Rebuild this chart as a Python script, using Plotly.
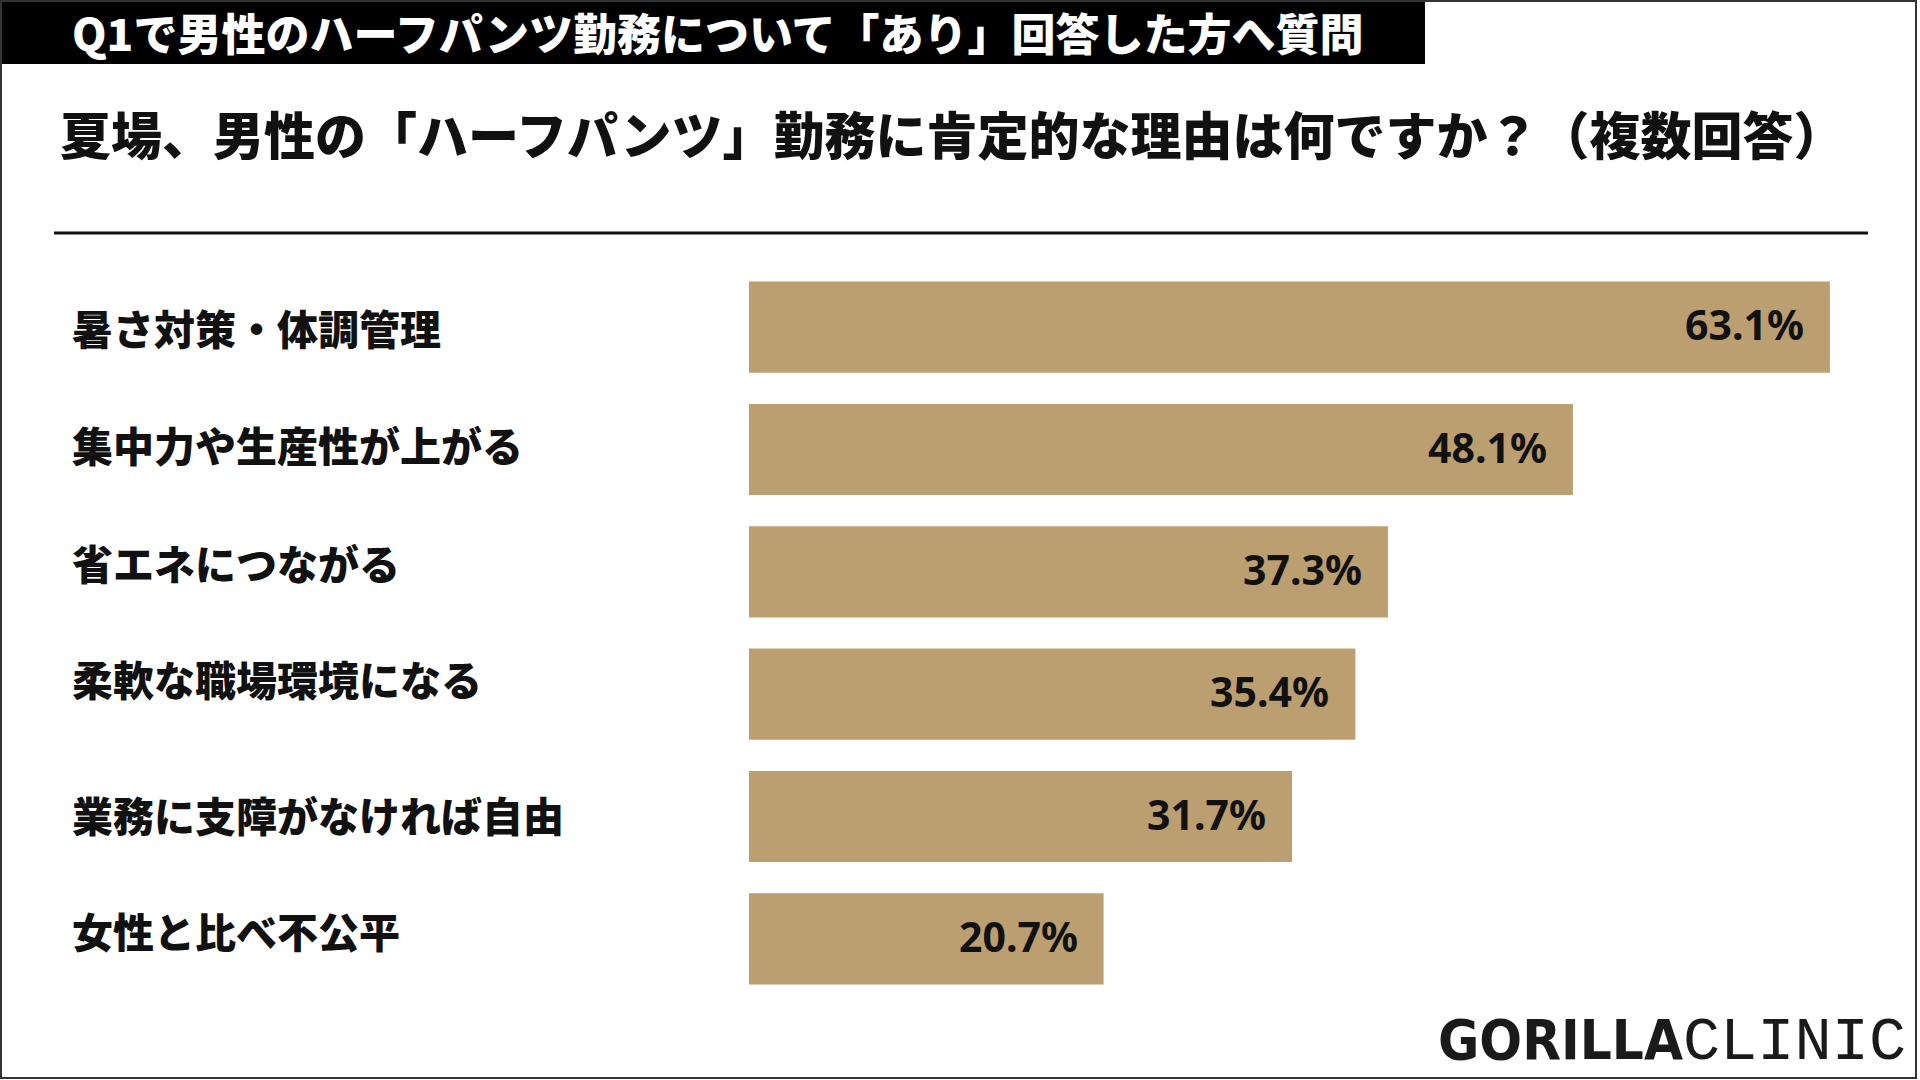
import plotly.graph_objects as go

# data
categories = [
    "暑さ対策・体調管理",
    "集中力や生産性が上がる",
    "省エネにつながる",
    "柔軟な職場環境になる",
    "業務に支障がなければ自由",
    "女性と比べ不公平",
]
values = [63.1, 48.1, 37.3, 35.4, 31.7, 20.7]
value_labels = ["63.1%", "48.1%", "37.3%", "35.4%", "31.7%", "20.7%"]

header_text = "Q1で男性のハーフパンツ勤務について「あり」回答した方へ質問"
title_text = "夏場、男性の「ハーフパンツ」勤務に肯定的な理由は何ですか？（複数回答）"

# small vertical nudges of the category labels (px), as in the original slide
label_nudge = [0, 6, 10, 16, 3, 9]

W, H = 1920, 1080
ML, MR, MT, MB = 749, 40, 266, 80
PW = W - ML - MR
PH = H - MT - MB

JP = "Noto Sans CJK JP"
BAR = "#BC9F70"


def xp(px):
    return (px - ML) / PW


def yp(py):
    return 1 - (py - MT) / PH


fig = go.Figure()
fig.add_trace(go.Bar(
    x=values, y=categories, orientation="h",
    marker=dict(color=BAR, line=dict(width=0)),
    hoverinfo="skip",
))

annotations = []
# value labels inside the bars
for c, v, t in zip(categories, values, value_labels):
    annotations.append(dict(
        x=v, y=c, xref="x", yref="y", text=t, showarrow=False,
        xanchor="right", yanchor="middle", xshift=-24, yshift=3,
        font=dict(family="Noto Sans", size=41, color="#111111", weight=700),
    ))
# category labels, left aligned
for c, n in zip(categories, label_nudge):
    annotations.append(dict(
        x=xp(70), y=c, xref="paper", yref="y", text=c, showarrow=False,
        xanchor="left", yanchor="middle", yshift=n,
        font=dict(family=JP, size=41, color="#111111", weight=900),
    ))
# header & title
annotations.append(dict(
    x=xp(70), y=yp(32), xref="paper", yref="paper", text=header_text,
    showarrow=False, xanchor="left", yanchor="middle",
    font=dict(family=JP, size=44, color="white", weight=900),
))
annotations.append(dict(
    x=xp(58), y=yp(133), xref="paper", yref="paper", text=title_text,
    showarrow=False, xanchor="left", yanchor="middle",
    font=dict(family=JP, size=51, color="#111111", weight=900),
))
# logo
annotations.append(dict(
    x=xp(1908), y=yp(1042), xref="paper", yref="paper",
    text="<span style='font-family:DejaVu Sans Condensed;font-weight:bold;font-size:56px'>GORILLA</span>"
         "<span style='font-family:Liberation Mono;font-size:62px'>CLINIC</span>",
    showarrow=False, xanchor="right", yanchor="middle",
    font=dict(color="#1a1a1a", size=56),
))

shapes = [
    # header black band
    dict(type="rect", xref="paper", yref="paper",
         x0=xp(0), x1=xp(1425), y0=yp(0), y1=yp(64),
         fillcolor="black", line=dict(width=0), layer="below"),
    # rule under title
    dict(type="line", xref="paper", yref="paper",
         x0=xp(54), x1=xp(1868), y0=yp(233), y1=yp(233),
         line=dict(color="#111111", width=3)),
    # outer frame
    dict(type="rect", xref="paper", yref="paper",
         x0=xp(1), x1=xp(1916), y0=yp(1), y1=yp(1078),
         line=dict(color="#333333", width=2), fillcolor="rgba(0,0,0,0)"),
]

fig.update_layout(
    width=W, height=H,
    margin=dict(l=ML, r=MR, t=MT, b=MB),
    paper_bgcolor="white", plot_bgcolor="white",
    showlegend=False,
    bargap=0.255,
    xaxis=dict(range=[0, PW / 17.13], visible=False, fixedrange=True),
    yaxis=dict(categoryorder="array", categoryarray=categories,
               autorange="reversed", showticklabels=False,
               showgrid=False, zeroline=False, fixedrange=True),
    annotations=annotations,
    shapes=shapes,
)

fig.write_html("out.html", config={"displayModeBar": False},
               post_script="document.body.style.margin='0';")
